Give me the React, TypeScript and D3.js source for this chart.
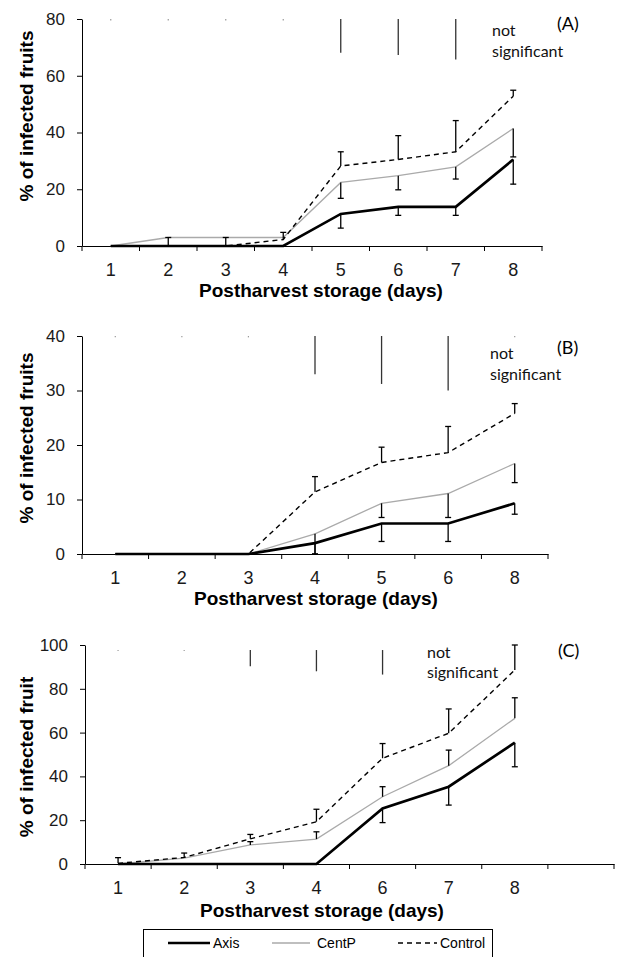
import React, { useEffect, useRef } from "react";
import * as d3 from "d3";

// panel A
const daysA = ["1", "2", "3", "4", "5", "6", "7", "8"];
const axisA = [0, 0, 0, 0, 11.3, 13.8, 13.8, 30.5];
const axisUpA = [0, 3, 3, 0, 0, 0, 0, 0];
const axisDownA = [0, 0, 0, 0, 5, 3, 3, 8.7];
const centpA = [0, 3, 3, 3, 22.4, 24.8, 27.9, 41.4];
const centpDownA = [0, 0, 0, 0, 5.6, 5, 4.3, 10];
const controlA = [0, 0, 0, 2.3, 28.2, 30.5, 33.2, 52.8];
const controlUpA = [0, 0, 0, 2.5, 5, 8.4, 11, 2.1];
const sigA = [79.5, 79.5, 79.5, 79.5, 68.1, 67.3, 65.7, null];

// panel B
const daysB = ["1", "2", "3", "4", "5", "6", "8"];
const axisB = [0, 0, 0, 2.0, 5.6, 5.6, 9.3];
const axisDownB = [0, 0, 0, 2.0, 3.3, 3.3, 2];
const centpB = [0, 0, 0, 3.7, 9.3, 11.1, 16.6];
const centpDownB = [0, 0, 0, 3.7, 2.6, 4.4, 3.5];
const controlB = [0, 0, 0, 11.4, 16.8, 18.6, 25.8];
const controlUpB = [0, 0, 0, 2.8, 2.8, 4.8, 1.8];
const sigB = [39.75, 39.75, 39.75, 33.0, 31.2, 30.0, 39.75];

// panel C (last band is empty)
const daysC = ["1", "2", "3", "4", "6", "7", "8", ""];
const axisC = [0, 0, 0, 0, 25.4, 35.3, 55.4];
const axisDownC = [0, 0, 0, 0, 6.5, 8.4, 11];
const centpC = [0, 2.7, 8.7, 11.4, 30.7, 44.9, 66.5];
const centpUpC = [0, 0, 1.5, 3.3, 4.6, 7.1, 9.4];
const controlC = [0.3, 3, 11.5, 19.3, 48.3, 59.7, 88.6];
const controlUpC = [2.6, 2, 2, 5.7, 6.7, 11.1, 11.4];
const sigC = [97.3, 97.3, 90.3, 88, 86.5, null, null];

const legendNames = ["Axis", "CentP", "Control"];

const zeros = (n) => new Array(n).fill(0);

const panels = [
	{
		cats: daysA, sigTop: 80, sig: sigA, max: 80, step: 20,
		series: [
			{ v: centpA, up: zeros(8), down: centpDownA },
			{ v: controlA, up: controlUpA, down: zeros(8) },
			{ v: axisA, up: axisUpA, down: axisDownA },
		],
		left: 82, right: 542, bottom: 246, top: 19,
		yLabel: "% of infected fruits", yLabelY: 116, titleX: 321, titleY: 297,
		tag: "(A)", tagX: 557, tagY: 30, nsX: 492, nsY: [36, 57],
	},
	{
		cats: daysB, sigTop: 40, sig: sigB, max: 40, step: 10,
		series: [
			{ v: centpB, up: zeros(7), down: centpDownB },
			{ v: controlB, up: controlUpB, down: zeros(7) },
			{ v: axisB, up: zeros(7), down: axisDownB },
		],
		left: 82, right: 548, bottom: 554, top: 336,
		yLabel: "% of infected fruits", yLabelY: 438, titleX: 316, titleY: 605,
		tag: "(B)", tagX: 557, tagY: 354, nsX: 490, nsY: [359, 380],
	},
	{
		cats: daysC, sigTop: 97.7, sig: sigC, max: 100, step: 20,
		series: [
			{ v: centpC, up: centpUpC, down: zeros(7) },
			{ v: controlC, up: controlUpC, down: zeros(7) },
			{ v: axisC, up: zeros(7), down: axisDownC },
		],
		left: 85, right: 614, bottom: 864, top: 645,
		yLabel: "% of infected fruit", yLabelY: 757, titleX: 322, titleY: 917,
		tag: "(C)", tagX: 558, tagY: 657, nsX: 427, nsY: [658, 678],
	},
];

// CentP, Control, Axis
const lineStyles = [
	{ color: "#aaaaaa", width: 1.3, dash: null },
	{ color: "#000", width: 1.4, dash: "5,4" },
	{ color: "#000", width: 2.7, dash: null },
];

const sans = "'Liberation Sans', Arial, sans-serif";
const calibri = "Lato, 'Open Sans', sans-serif";

const App = () => {
	const svgRef = useRef();

	useEffect(() => {
		const svg = d3.select(svgRef.current);
		svg.selectAll("*").remove();

		panels.forEach((p) => {
			const g = svg.append("g");
			const x = d3.scaleBand().domain(p.cats).range([p.left, p.right]).padding(0);
			const y = d3.scaleLinear().domain([0, p.max]).range([p.bottom, p.top]);
			const cx = (i) => x(p.cats[i]) + x.bandwidth() / 2;

			// y axis
			const ya = g
				.append("g")
				.attr("transform", `translate(${p.left},0)`)
				.call(
					d3.axisLeft(y)
						.tickValues(d3.range(0, p.max + p.step / 2, p.step))
						.tickSize(5)
						.tickPadding(12)
						.tickSizeOuter(0)
				);
			ya.selectAll("text").style("font-family", sans).style("font-size", "17px").attr("fill", "#1a1a1a");

			// x axis: labels at band centers, ticks at band edges
			const xa = g
				.append("g")
				.attr("transform", `translate(0,${p.bottom})`)
				.call(d3.axisBottom(x).tickSize(0).tickPadding(17).tickSizeOuter(0));
			xa.selectAll("text").style("font-family", sans).style("font-size", "18px").attr("fill", "#1a1a1a");
			const edges = p.cats.map((c) => x(c)).concat([p.right]);
			g.selectAll(".edge")
				.data(edges)
				.enter()
				.append("line")
				.attr("x1", (d) => d)
				.attr("x2", (d) => d)
				.attr("y1", p.bottom)
				.attr("y2", p.bottom + 5)
				.attr("stroke", "#000");

			// significance bars
			p.sig.forEach((b, i) => {
				if (b === null) return;
				const dot = p.sigTop - b < 1;
				g.append("line")
					.attr("x1", cx(i))
					.attr("x2", cx(i))
					.attr("y1", y(p.sigTop))
					.attr("y2", y(b))
					.attr("stroke", dot ? "#999" : "#333")
					.attr("stroke-width", dot ? 1.2 : 1.3);
			});

			// lines
			p.series.forEach((s, k) => {
				const st = lineStyles[k];
				const line = d3.line().x((d, i) => cx(i)).y((d) => y(d));
				g.append("path")
					.datum(s.v)
					.attr("d", line)
					.attr("fill", "none")
					.attr("stroke", st.color)
					.attr("stroke-width", st.width)
					.attr("stroke-dasharray", st.dash);
			});

			// error bars (black, cap at the far end only)
			p.series.forEach((s) => {
				s.v.forEach((v, i) => {
					[
						[s.up[i], 1],
						[s.down[i], -1],
					].forEach(([e, dir]) => {
						if (!e) return;
						const yEnd = y(Math.max(0, v + dir * e));
						g.append("line")
							.attr("x1", cx(i)).attr("x2", cx(i))
							.attr("y1", y(v)).attr("y2", yEnd)
							.attr("stroke", "#000").attr("stroke-width", 1.3);
						g.append("line")
							.attr("x1", cx(i) - 3).attr("x2", cx(i) + 3)
							.attr("y1", yEnd).attr("y2", yEnd)
							.attr("stroke", "#000").attr("stroke-width", 1.3);
					});
				});
			});

			// titles
			g.append("text")
				.attr("transform", `translate(33,${p.yLabelY}) rotate(-90)`)
				.attr("text-anchor", "middle")
				.style("font-family", sans)
				.style("font-size", "19px")
				.style("font-weight", "bold")
				.text(p.yLabel);
			g.append("text")
				.attr("x", p.titleX)
				.attr("y", p.titleY)
				.attr("text-anchor", "middle")
				.style("font-family", sans)
				.style("font-size", "19px")
				.style("font-weight", "bold")
				.text("Postharvest storage (days)");
			g.append("text")
				.attr("x", p.tagX)
				.attr("y", p.tagY)
				.style("font-family", calibri)
				.style("font-size", "18px")
				.text(p.tag);
			["not", "significant"].forEach((t, i) => {
				g.append("text")
					.attr("x", p.nsX)
					.attr("y", p.nsY[i])
					.style("font-family", calibri)
					.style("font-size", "16px")
					.attr("fill", "#111")
					.text(t);
			});
		});

		// legend
		const lg = svg.append("g");
		lg.append("rect")
			.attr("x", 143.5)
			.attr("y", 929.5)
			.attr("width", 349)
			.attr("height", 40)
			.attr("fill", "#fff")
			.attr("stroke", "#000");
		const legendPos = [
			{ x1: 168, x2: 210, tx: 213, style: lineStyles[2] },
			{ x1: 272, x2: 310, tx: 317, style: lineStyles[0] },
			{ x1: 398, x2: 437, tx: 440, style: lineStyles[1] },
		];
		legendNames.forEach((name, i) => {
			const lp = legendPos[i];
			lg.append("line")
				.attr("x1", lp.x1)
				.attr("x2", lp.x2)
				.attr("y1", 943)
				.attr("y2", 943)
				.attr("stroke", lp.style.color)
				.attr("stroke-width", lp.style.width)
				.attr("stroke-dasharray", lp.style.dash);
			lg.append("text")
				.attr("x", lp.tx)
				.attr("y", 948)
				.style("font-family", sans)
				.style("font-size", "14px")
				.text(name);
		});
	}, []);

	return (
		<svg
			ref={svgRef}
			width={621}
			height={957}
			style={{ position: "absolute", left: 0, top: 0, background: "#fff" }}
		></svg>
	);
};

export default App;
